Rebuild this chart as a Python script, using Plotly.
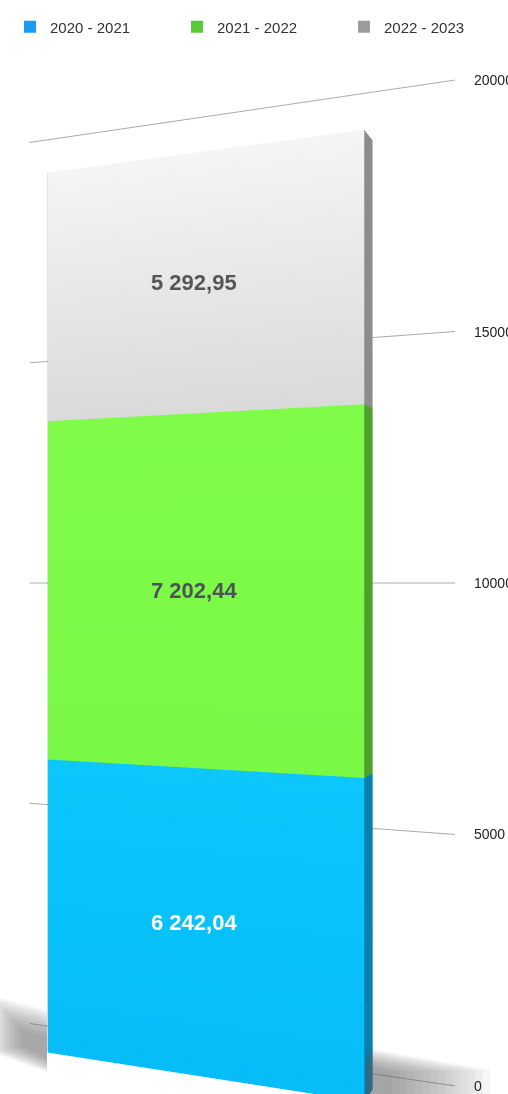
import plotly.graph_objects as go

# Season totals, stacked bottom to top
seasons = ["2020 - 2021", "2021 - 2022", "2022 - 2023"]
values = [6242.04, 7202.44, 5292.95]
value_labels = ["6 242,04", "7 202,44", "5 292,95"]

# Value axis
z_ticks = [0, 5000, 10000, 15000, 20000]
z_tick_labels = ["0", "5000", "10000", "15000", "20000"]
z_max = 20000

# Colours per season
legend_colors = ["#1d9bf4", "#5ac83b", "#9b9b9b"]
face_top = ["#0cc6fc", "#80fb4a", "#f5f5f5"]
face_bottom = ["#07bdf7", "#7af846", "#dadada"]
side_colors = ["#0a7fb0", "#4f9f2c", "#8c8c8c"]
cap_colors = ["#0cc6fc", "#80fb4a", "#f8f8f8"]
label_colors = ["#ffffff", "#4c5257", "#555555"]

# Bar footprint inside the scene box (x along the wall, y toward the wall)
BAR_X = (0.131, 0.848)
BAR_Y = (0.0, 0.45)
WALL_Y = 1.0

W, H = 508, 1094


def box(x0, x1, y0, y1, z0, z1, c_top, c_bot, c_side, c_cap):
    """Vertices, triangles and vertex colours of an axis-aligned box."""
    quads = [
        ([(x0, y0, z0), (x1, y0, z0), (x1, y0, z1), (x0, y0, z1)], [c_bot, c_bot, c_top, c_top]),
        ([(x0, y1, z0), (x1, y1, z0), (x1, y1, z1), (x0, y1, z1)], [c_bot, c_bot, c_top, c_top]),
        ([(x0, y0, z0), (x0, y1, z0), (x0, y1, z1), (x0, y0, z1)], [c_side] * 4),
        ([(x1, y0, z0), (x1, y1, z0), (x1, y1, z1), (x1, y0, z1)], [c_side] * 4),
        ([(x0, y0, z1), (x1, y0, z1), (x1, y1, z1), (x0, y1, z1)], [c_cap] * 4),
        ([(x0, y0, z0), (x1, y0, z0), (x1, y1, z0), (x0, y1, z0)], [c_cap] * 4),
    ]
    xs, ys, zs, ii, jj, kk, cols = [], [], [], [], [], [], []
    for pts, cs in quads:
        b = len(xs)
        for (px, py, pz), c in zip(pts, cs):
            xs.append(px)
            ys.append(py)
            zs.append(pz)
            cols.append(c)
        ii += [b, b]
        jj += [b + 1, b + 2]
        kk += [b + 2, b + 3]
    return xs, ys, zs, ii, jj, kk, cols


def soft_polygon(outer, inner, steps, alpha, rgb="95,95,95"):
    """Nested translucent paths (pixel outline -> paper units) giving a soft-edged shadow."""
    out = []
    for s in range(steps):
        f = s / (steps - 1)
        pts = [(ox + (ix - ox) * f, oy + (iy - oy) * f) for (ox, oy), (ix, iy) in zip(outer, inner)]
        path = "M " + " L ".join(f"{px / W:.5f},{1 - py / H:.5f}" for px, py in pts) + " Z"
        out.append(dict(type="path", path=path, xref="paper", yref="paper", layer="above",
                        fillcolor=f"rgba({rgb},{alpha})", line=dict(width=0)))
    return out


fig = go.Figure()

# Horizontal grid lines on the back wall
gx, gy, gz = [], [], []
for t in z_ticks:
    gx += [0, 1, None]
    gy += [WALL_Y, WALL_Y, None]
    gz += [t, t, None]
fig.add_trace(go.Scatter3d(
    x=gx, y=gy, z=gz, mode="lines",
    line=dict(color="#ababab", width=2),
    hoverinfo="skip", showlegend=False,
))

# Stacked segments
base = 0.0
annotations = []
for idx, (name, v) in enumerate(zip(seasons, values)):
    top = base + v
    xs, ys, zs, ii, jj, kk, cols = box(
        BAR_X[0], BAR_X[1], BAR_Y[0], BAR_Y[1], base, top,
        face_top[idx], face_bottom[idx], side_colors[idx], cap_colors[idx],
    )
    fig.add_trace(go.Mesh3d(
        x=xs, y=ys, z=zs, i=ii, j=jj, k=kk,
        vertexcolor=cols, flatshading=True,
        lighting=dict(ambient=1.0, diffuse=0.0, specular=0.0, roughness=1.0, fresnel=0.0),
        hoverinfo="skip", showlegend=False, name=name,
    ))
    annotations.append(dict(
        x=(BAR_X[0] + BAR_X[1]) / 2, y=BAR_Y[0], z=(base + top) / 2,
        text=value_labels[idx], showarrow=False, xshift=-4,
        font=dict(family="Liberation Sans", size=22, color=label_colors[idx], weight="bold"),
    ))
    base = top

# Legend entries, one small legend per season
legend_names = ["legend", "legend2", "legend3"]
legend_x = [10, 177, 344]
for name, c, lg in zip(seasons, legend_colors, legend_names):
    fig.add_trace(go.Scatter3d(
        x=[None], y=[None], z=[None], mode="markers", name=name,
        marker=dict(symbol="square", size=12, color=c),
        showlegend=True, legend=lg,
    ))

# Value axis labels at the right end of each grid line
for t, lab in zip(z_ticks, z_tick_labels):
    annotations.append(dict(
        x=1, y=WALL_Y, z=t, text=lab, showarrow=False,
        xanchor="left", xshift=17,
        font=dict(family="Liberation Sans", size=14, color="#222222"),
    ))

hidden = dict(visible=False, showgrid=False, zeroline=False, showline=False,
              showticklabels=False, showbackground=False, showspikes=False, title="")

# Soft floor shadows beside the foot of the bar
shapes = []
shapes += soft_polygon(
    outer=[(-8, 996), (47, 1010), (47, 1072), (-8, 1052)],
    inner=[(22, 1030), (47, 1037), (47, 1058), (22, 1046)],
    steps=14, alpha=0.06,
)
shapes += soft_polygon(
    outer=[(366, 1048), (490, 1070), (490, 1100), (366, 1100)],
    inner=[(366, 1066), (392, 1073), (392, 1100), (366, 1100)],
    steps=14, alpha=0.055,
)

legend_style = dict(
    orientation="h", y=0.9905, yanchor="top", xanchor="left",
    font=dict(family="Liberation Sans", size=15, color="#333333"),
    itemsizing="constant", bgcolor="rgba(0,0,0,0)",
)

fig.update_layout(
    width=W, height=H,
    margin=dict(l=0, r=0, t=0, b=0),
    paper_bgcolor="white",
    scene=dict(
        domain=dict(x=[0, 1], y=[0, 0.9342]),
        xaxis=dict(range=[0, 1], **hidden),
        yaxis=dict(range=[0, 1], **hidden),
        zaxis=dict(range=[0, z_max], **hidden),
        aspectmode="manual",
        aspectratio=dict(x=0.973, y=0.137, z=2.0),
        camera=dict(
            eye=dict(x=0.989, y=-2.3655, z=0),
            center=dict(x=0.085, y=0, z=0),
            up=dict(x=0, y=0, z=1),
            projection=dict(type="perspective"),
        ),
        annotations=annotations,
        bgcolor="white",
        dragmode=False,
    ),
    legend=dict(x=legend_x[0] / W, **legend_style),
    legend2=dict(x=legend_x[1] / W, **legend_style),
    legend3=dict(x=legend_x[2] / W, **legend_style),
    shapes=shapes,
    hovermode=False,
)

fig.write_html("out.html")
